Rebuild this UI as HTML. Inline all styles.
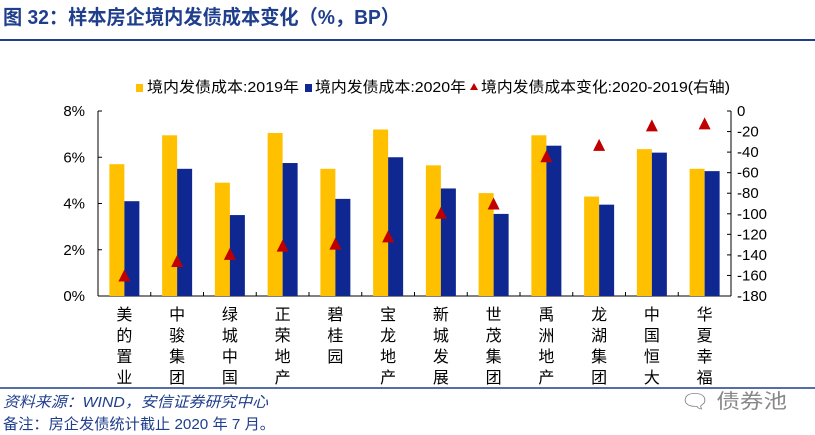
<!DOCTYPE html>
<html><head><meta charset="utf-8"><style>
body{margin:0;background:#fff;}
svg{display:block;font-family:"Liberation Sans","Noto Sans CJK SC",sans-serif;}
</style></head><body>
<svg width="815" height="435" xmlns="http://www.w3.org/2000/svg" id="c">
<text x="3" y="24" font-size="20" font-weight="bold" fill="#1f3e8c" textLength="397" lengthAdjust="spacingAndGlyphs">图 32：样本房企境内发债成本变化（%，BP）</text>
<line x1="0" y1="40" x2="815" y2="40" stroke="#1f3e8c" stroke-width="2"/>
<g font-size="15" fill="#000">
<rect x="136" y="84" width="7" height="8" fill="#ffc000"/>
<text x="147" y="92" textLength="152" lengthAdjust="spacingAndGlyphs">境内发债成本:2019年</text>
<rect x="305" y="84" width="7" height="8" fill="#0f2891"/>
<text x="315" y="92" textLength="151" lengthAdjust="spacingAndGlyphs">境内发债成本:2020年</text>
<polygon points="470,90 474,83 478,90" fill="#c00000"/>
<text x="481" y="92" textLength="249" lengthAdjust="spacingAndGlyphs">境内发债成本变化:2020-2019(右轴)</text>
</g>
<g id="plot"></g>
<line x1="0" y1="388" x2="815" y2="388" stroke="#1f3e8c" stroke-width="1.5"/>
<text x="3" y="407" font-size="15" font-style="italic" fill="#1f3e8c" textLength="265" lengthAdjust="spacingAndGlyphs">资料来源：WIND，安信证券研究中心</text>
<text x="3" y="429" font-size="15" fill="#1f3e8c" textLength="272" lengthAdjust="spacingAndGlyphs">备注：房企发债统计截止 2020 年 7 月。</text>
<text x="680" y="408" font-size="20" fill="#888" textLength="107" lengthAdjust="spacingAndGlyphs">🗨 债券池</text>
</svg>
<script>
const categories=["美的置业","中骏集团","绿城中国","正荣地产","碧桂园","宝龙地产","新城发展","世茂集团","禹洲地产","龙湖集团","中国恒大","华夏幸福"];
const cost2019=[5.7,6.95,4.9,7.05,5.5,7.2,5.65,4.45,6.95,4.3,6.35,5.5];
const cost2020=[4.1,5.5,3.5,5.75,4.2,6.0,4.65,3.55,6.5,3.95,6.2,5.4];
const change=[-160,-146,-139,-131,-129,-122,-99,-90,-44,-33,-14,-12];
const leftTicks=["0%","2%","4%","6%","8%"];
const rightTicks=[0,-20,-40,-60,-80,-100,-120,-140,-160,-180];
const NS="http://www.w3.org/2000/svg";
const g=document.getElementById('plot');
const X0=98,X1=731,Y0=296,Y1=111;
const bw=(X1-X0)/categories.length;
const yL=v=>Y0-(v/8)*(Y0-Y1);
const yR=v=>Y1+(-v/180)*(Y0-Y1);
function mk(t,a){const e=document.createElementNS(NS,t);for(const k in a)e.setAttribute(k,a[k]);g.appendChild(e);return e;}
let e;
e=mk('line',{x1:X0,y1:Y1,x2:X0,y2:Y0,stroke:'#000'});


e=mk('line',{x1:X1,y1:Y1,x2:X1,y2:Y0,stroke:'#000'});


e=mk('line',{x1:X0,y1:Y0,x2:X1,y2:Y0,stroke:'#000'});


leftTicks.forEach((t,i)=>{const y=yL(i*2);
e=mk('line',{x1:X0,y1:y,x2:X0+4,y2:y,stroke:'#000'});


e=mk('text',{x:X0-13,y:y+5,'text-anchor':'end','font-size':15});e.textContent=t;

});
rightTicks.forEach(v=>{const y=yR(v);
e=mk('line',{x1:X1-4,y1:y,x2:X1,y2:y,stroke:'#000'});


e=mk('text',{x:X1+6,y:y+5,'font-size':15});e.textContent=v;

});
categories.forEach((c,i)=>{const cx=X0+bw*(i+0.5);
if(i>0){e=mk('line',{x1:X0+bw*i,y1:Y0-4,x2:X0+bw*i,y2:Y0,stroke:'#000'});

}
e=mk('rect',{x:cx-15,y:yL(cost2019[i]),width:15,height:Y0-yL(cost2019[i]),fill:'#ffc000'});


e=mk('rect',{x:cx,y:yL(cost2020[i]),width:15,height:Y0-yL(cost2020[i]),fill:'#0f2891'});


const ty=yR(change[i]);
e=mk('polygon',{points:`${cx-6},${ty+6} ${cx},${ty-6} ${cx+6},${ty+6}`,fill:'#c00000'});


[...c].forEach((ch,j)=>{e=mk('text',{x:cx,y:320+j*21,'text-anchor':'middle','font-size':16});e.textContent=ch;

});
});
</script>
</body></html>
